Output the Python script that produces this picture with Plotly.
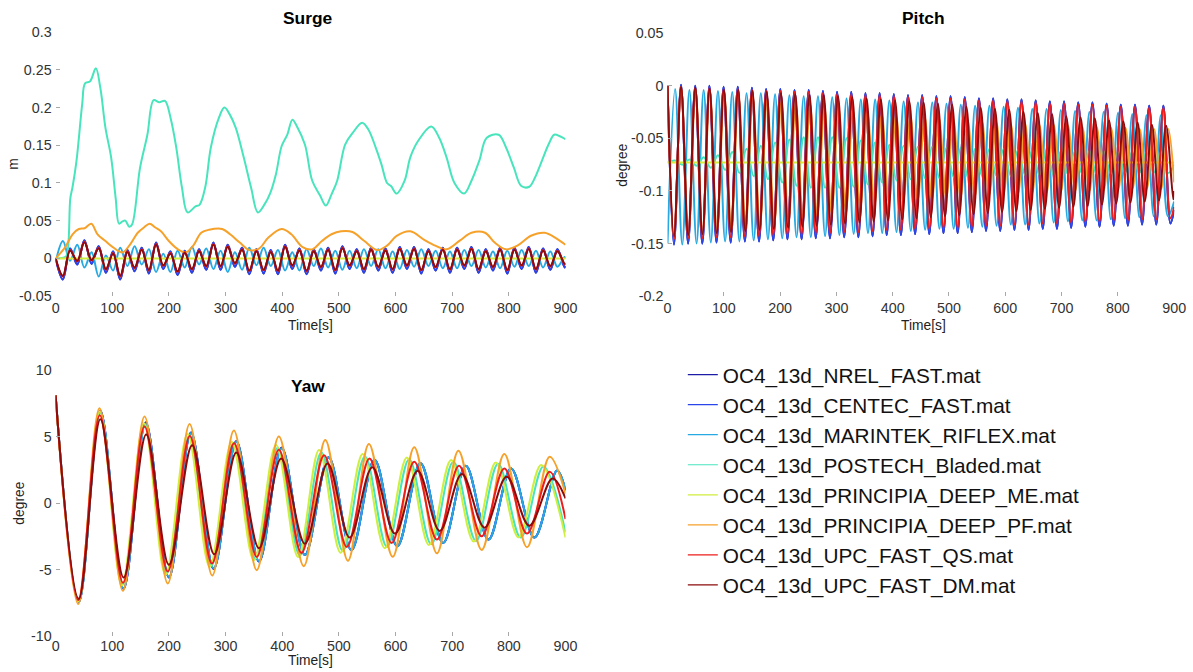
import plotly.graph_objects as go

W, H = 1199, 678

series_names = [
    "OC4_13d_NREL_FAST.mat",
    "OC4_13d_CENTEC_FAST.mat",
    "OC4_13d_MARINTEK_RIFLEX.mat",
    "OC4_13d_POSTECH_Bladed.mat",
    "OC4_13d_PRINCIPIA_DEEP_ME.mat",
    "OC4_13d_PRINCIPIA_DEEP_PF.mat",
    "OC4_13d_UPC_FAST_QS.mat",
    "OC4_13d_UPC_FAST_DM.mat",
]
series_colors = ["#1c1ca6", "#2a46ea", "#27aae2", "#48e4bc",
                 "#cfee3e", "#f5a12a", "#ee1c1c", "#8c0b0b"]

# ---------------- Surge [m] ----------------
surge_wave_t = [0, 12.9, 25.5, 38.2, 50.8, 63.5, 76.1, 88.8, 101.4, 114.1, 126.7, 139.4, 152.0, 164.7,
                177.3, 190.0, 202.6, 215.3, 227.9, 240.6, 253.2, 265.9, 278.5, 291.2, 303.8, 316.5,
                329.1, 341.8, 354.4, 367.1, 379.7, 392.4, 405.0, 417.7, 430.3, 443.0, 455.6, 468.3,
                480.9, 493.6, 506.2, 518.9, 531.5, 544.2, 556.8, 569.5, 582.1, 594.8, 607.4, 620.1,
                632.7, 645.4, 658.0, 670.7, 683.3, 696.0, 708.6, 721.3, 733.9, 746.6, 759.2, 771.9,
                784.5, 797.2, 809.8, 822.5, 835.1, 847.8, 860.4, 873.1, 885.7, 898.4, 900]
surge_fast = [0.000, -0.028, 0.013, -0.008, 0.024, -0.007, 0.016, -0.019, 0.009, -0.028, 0.011, -0.017,
              0.014, -0.020, 0.021, -0.014, 0.009, -0.022, 0.010, -0.019, 0.012, -0.015, 0.021, -0.015,
              0.018, -0.011, 0.014, -0.021, 0.012, -0.020, 0.011, -0.021, 0.018, -0.014, 0.013, -0.021,
              0.012, -0.016, 0.014, -0.020, 0.016, -0.014, 0.012, -0.019, 0.014, -0.016, 0.013, -0.019,
              0.015, -0.014, 0.015, -0.020, 0.012, -0.016, 0.014, -0.019, 0.014, -0.014, 0.015, -0.019,
              0.012, -0.016, 0.014, -0.020, 0.014, -0.014, 0.015, -0.019, 0.013, -0.015, 0.012, -0.012,
              -0.010]
surge_marintek = [-0.005, 0.023, -0.003, 0.018, -0.012, 0.008, -0.024, 0.004, -0.016, 0.014, -0.010,
                  0.016, -0.008, 0.012, -0.018, 0.006, -0.018, 0.010, -0.012, 0.015, -0.008, 0.013,
                  -0.014, 0.010, -0.018, 0.008, -0.015, 0.014, -0.009, 0.014, -0.010, 0.011, -0.016,
                  0.008, -0.016, 0.012, -0.010, 0.013, -0.012, 0.010, -0.015, 0.010, -0.013, 0.012,
                  -0.010, 0.012, -0.013, 0.009, -0.014, 0.011, -0.011, 0.012, -0.010, 0.010, -0.013,
                  0.009, -0.013, 0.011, -0.010, 0.011, -0.012, 0.009, -0.013, 0.010, -0.011, 0.011,
                  -0.010, 0.010, -0.012, 0.009, -0.011, 0.002, 0.000]
surge_qs = [0.000, -0.024, 0.011, -0.004, 0.022, -0.003, 0.014, -0.015, 0.007, -0.024, 0.009, -0.013,
            0.012, -0.016, 0.019, -0.010, 0.007, -0.018, 0.008, -0.015, 0.010, -0.011, 0.019, -0.011,
            0.016, -0.007, 0.012, -0.017, 0.010, -0.016, 0.009, -0.017, 0.016, -0.010, 0.011, -0.017,
            0.010, -0.012, 0.012, -0.016, 0.014, -0.010, 0.010, -0.015, 0.012, -0.012, 0.011, -0.015,
            0.013, -0.010, 0.013, -0.016, 0.010, -0.012, 0.012, -0.015, 0.012, -0.010, 0.013, -0.015,
            0.010, -0.012, 0.012, -0.016, 0.012, -0.010, 0.013, -0.015, 0.011, -0.011, 0.010, -0.008,
            -0.007]
surge_dm = [0.000, -0.023, 0.010, -0.003, 0.021, -0.002, 0.013, -0.014, 0.006, -0.023, 0.008, -0.012,
            0.011, -0.015, 0.018, -0.009, 0.006, -0.017, 0.007, -0.014, 0.009, -0.010, 0.018, -0.010,
            0.015, -0.006, 0.011, -0.016, 0.009, -0.015, 0.008, -0.016, 0.015, -0.009, 0.010, -0.016,
            0.009, -0.011, 0.011, -0.015, 0.013, -0.009, 0.009, -0.014, 0.011, -0.011, 0.010, -0.014,
            0.012, -0.009, 0.012, -0.015, 0.009, -0.011, 0.011, -0.014, 0.011, -0.009, 0.012, -0.014,
            0.009, -0.011, 0.011, -0.015, 0.011, -0.009, 0.012, -0.014, 0.010, -0.010, 0.009, -0.007,
            -0.006]
surge_postech_t = [0, 13.5, 19, 26, 30, 37, 47, 52, 61, 71, 79, 88, 98, 106, 112, 118, 123, 130, 135,
                   149, 162, 173, 183, 193, 203, 213, 223, 233, 247, 254, 264, 274, 288, 298, 308, 318,
                   332, 345, 357, 369, 379, 389, 399, 409, 418, 426, 440, 453, 467, 477, 487, 497, 511,
                   524, 541, 552, 565, 575, 585, 592, 602, 616, 626, 640, 663, 677, 690, 704, 721, 734,
                   748, 761, 782, 795, 809, 822, 836, 846, 856, 870, 880, 890, 900]
surge_postech = [0.000, 0.001, 0.003, 0.080, 0.095, 0.130, 0.205, 0.232, 0.235, 0.252, 0.226, 0.173,
                 0.134, 0.080, 0.046, 0.049, 0.050, 0.042, 0.045, 0.120, 0.164, 0.210, 0.207, 0.209,
                 0.186, 0.147, 0.094, 0.061, 0.069, 0.071, 0.094, 0.147, 0.186, 0.200, 0.190, 0.173,
                 0.134, 0.094, 0.061, 0.072, 0.087, 0.112, 0.149, 0.164, 0.184, 0.175, 0.151, 0.103,
                 0.083, 0.070, 0.085, 0.103, 0.151, 0.166, 0.180, 0.171, 0.147, 0.125, 0.100, 0.096,
                 0.086, 0.103, 0.134, 0.156, 0.175, 0.160, 0.134, 0.100, 0.086, 0.103, 0.130, 0.160,
                 0.164, 0.147, 0.120, 0.096, 0.095, 0.107, 0.125, 0.151, 0.164, 0.162, 0.158]
surge_me_t = [0, 900]
surge_me = [0.0, 0.0]
surge_pf_t = [0, 17, 30, 41, 51, 63, 74, 88, 101, 118, 132, 145, 156, 166, 176, 186, 200, 216, 230,
              243, 257, 271, 294, 308, 325, 342, 359, 376, 399, 416, 436, 453, 470, 487, 504, 524, 545,
              568, 585, 602, 626, 650, 670, 690, 714, 734, 758, 775, 795, 815, 839, 863, 883, 900]
surge_pf = [0.000, 0.015, 0.032, 0.039, 0.040, 0.046, 0.032, 0.023, 0.015, 0.008, 0.019, 0.034, 0.041,
            0.046, 0.041, 0.036, 0.023, 0.012, 0.008, 0.017, 0.034, 0.038, 0.039, 0.032, 0.021, 0.011,
            0.013, 0.028, 0.039, 0.032, 0.015, 0.012, 0.023, 0.032, 0.036, 0.035, 0.023, 0.011, 0.017,
            0.030, 0.036, 0.025, 0.017, 0.012, 0.024, 0.034, 0.034, 0.021, 0.012, 0.017, 0.030, 0.034,
            0.027, 0.018]

# ---------------- Pitch [degree] ----------------
pitch_wave_t = [0, 11.4, 24.0, 36.6, 49.2, 61.8, 74.4, 87.0, 99.6, 112.2, 124.8, 137.4, 150.0, 162.6,
                175.2, 187.8, 200.4, 213.0, 225.6, 238.2, 250.8, 263.4, 276.0, 288.6, 301.2, 313.8,
                326.4, 339.0, 351.6, 364.2, 376.8, 389.4, 402.0, 414.6, 427.2, 439.8, 452.4, 465.0,
                477.6, 490.2, 502.8, 515.4, 528.0, 540.6, 553.2, 565.8, 578.4, 591.0, 603.6, 616.2,
                628.8, 641.4, 654.0, 666.6, 679.2, 691.8, 704.4, 717.0, 729.6, 742.2, 754.8, 767.4,
                780.0, 792.6, 805.2, 817.8, 830.4, 843.0, 855.6, 868.2, 880.8, 893.4, 900]
pitch_dm_t = [0, 11.5, 24.1, 36.8, 49.5, 62.1, 74.8, 87.5, 100.2, 112.8, 125.5, 138.2, 150.8, 163.5,
              176.2, 188.8, 201.5, 214.2, 226.9, 239.5, 252.2, 264.9, 277.5, 290.2, 302.9, 315.5,
              328.2, 340.9, 353.6, 366.2, 378.9, 391.6, 404.2, 416.9, 429.6, 442.2, 454.9, 467.6,
              480.3, 492.9, 505.6, 518.3, 530.9, 543.6, 556.3, 568.9, 581.6, 594.3, 607.0, 619.6,
              632.3, 645.0, 657.6, 670.3, 683.0, 695.6, 708.3, 721.0, 733.7, 746.3, 759.0, 771.7,
              784.3, 797.0, 809.7, 822.3, 835.0, 847.7, 860.4, 873.0, 885.7, 898.4, 900]
pitch_pf_t = [0, 11.5, 24.2, 37.0, 49.7, 62.4, 75.1, 87.9, 100.6, 113.3, 126.0, 138.8, 151.5, 164.2,
              177.0, 189.7, 202.4, 215.1, 227.9, 240.6, 253.3, 266.0, 278.8, 291.5, 304.2, 316.9,
              329.7, 342.4, 355.1, 367.8, 380.6, 393.3, 406.0, 418.7, 431.5, 444.2, 456.9, 469.7,
              482.4, 495.1, 507.8, 520.6, 533.3, 546.0, 558.7, 571.5, 584.2, 596.9, 609.6, 622.4,
              635.1, 647.8, 660.5, 673.3, 686.0, 698.7, 711.4, 724.2, 736.9, 749.6, 762.3, 775.1,
              787.8, 800.5, 813.3, 826.0, 838.7, 851.4, 864.2, 876.9, 889.6, 900]
pitch_lead_t = [0, 13.5, 26.2, 38.9, 51.6, 64.2, 76.9, 89.6, 102.3, 115.0, 127.7, 140.4, 153.1, 165.8,
                178.4, 191.1, 203.8, 216.5, 229.2, 241.9, 254.6, 267.3, 279.9, 292.6, 305.3, 318.0,
                330.7, 343.4, 356.1, 368.8, 381.4, 394.1, 406.8, 419.5, 432.2, 444.9, 457.6, 470.3,
                483.0, 495.6, 508.3, 521.0, 533.7, 546.4, 559.1, 571.8, 584.5, 597.1, 609.8, 622.5,
                635.2, 647.9, 660.6, 673.3, 686.0, 698.7, 711.3, 724.0, 736.7, 749.4, 762.1, 774.8,
                787.5, 800.2, 812.8, 825.5, 838.2, 850.9, 863.6, 876.3, 889.0, 900]
pitch_fast = [0.000, -0.151, 0.001, -0.150, 0.000, -0.150, 0.000, -0.149, -0.001, -0.149, -0.001,
              -0.148, -0.002, -0.148, -0.003, -0.147, -0.003, -0.146, -0.004, -0.146, -0.004, -0.145,
              -0.005, -0.145, -0.006, -0.144, -0.006, -0.144, -0.007, -0.143, -0.007, -0.142, -0.008,
              -0.142, -0.009, -0.141, -0.009, -0.141, -0.010, -0.140, -0.010, -0.140, -0.011, -0.139,
              -0.012, -0.138, -0.012, -0.138, -0.013, -0.137, -0.013, -0.137, -0.014, -0.136, -0.015,
              -0.136, -0.015, -0.135, -0.016, -0.134, -0.016, -0.134, -0.017, -0.133, -0.018, -0.133,
              -0.018, -0.132, -0.019, -0.132, -0.019, -0.131, -0.118]
pitch_marintek = [-0.150, -0.003, -0.151, -0.004, -0.150, -0.004, -0.149, -0.005, -0.148, -0.006,
                  -0.148, -0.007, -0.147, -0.007, -0.146, -0.008, -0.145, -0.009, -0.144, -0.010,
                  -0.144, -0.010, -0.143, -0.011, -0.142, -0.012, -0.141, -0.013, -0.140, -0.013,
                  -0.140, -0.014, -0.139, -0.015, -0.138, -0.016, -0.137, -0.016, -0.136, -0.017,
                  -0.136, -0.018, -0.135, -0.019, -0.134, -0.019, -0.133, -0.020, -0.132, -0.021,
                  -0.132, -0.022, -0.131, -0.022, -0.130, -0.023, -0.129, -0.024, -0.128, -0.025,
                  -0.128, -0.025, -0.127, -0.026, -0.126, -0.027, -0.125, -0.028, -0.124, -0.028,
                  -0.124, -0.110]
pitch_postech = [-0.073, -0.071, -0.075, -0.070, -0.076, -0.068, -0.078, -0.066, -0.080, -0.063, -0.083,
                 -0.060, -0.086, -0.057, -0.089, -0.054, -0.092, -0.051, -0.095, -0.049, -0.097, -0.049,
                 -0.097, -0.049, -0.097, -0.050, -0.096, -0.052, -0.094, -0.054, -0.092, -0.056, -0.090,
                 -0.057, -0.089, -0.058, -0.088, -0.058, -0.088, -0.059, -0.087, -0.059, -0.087, -0.060,
                 -0.086, -0.060, -0.086, -0.060, -0.086, -0.061, -0.085, -0.061, -0.085, -0.061, -0.085,
                 -0.062, -0.084, -0.062, -0.084, -0.062, -0.084, -0.062, -0.084, -0.063, -0.083, -0.063,
                 -0.083, -0.063, -0.083, -0.063, -0.083, -0.075]
pitch_me_t = [0, 900]
pitch_me = [-0.073, -0.073]
pitch_pf = [0.000, -0.145, -0.001, -0.143, -0.003, -0.141, -0.005, -0.139, -0.007, -0.137, -0.009,
            -0.135, -0.011, -0.133, -0.013, -0.131, -0.015, -0.128, -0.017, -0.126, -0.019, -0.124,
            -0.021, -0.121, -0.022, -0.119, -0.024, -0.116, -0.025, -0.113, -0.027, -0.111, -0.028,
            -0.110, -0.029, -0.109, -0.030, -0.108, -0.031, -0.107, -0.032, -0.106, -0.033, -0.105,
            -0.034, -0.104, -0.035, -0.103, -0.036, -0.103, -0.036, -0.102, -0.037, -0.102, -0.037,
            -0.101, -0.038, -0.100, -0.039, -0.100, -0.039, -0.099, -0.040, -0.099, -0.040, -0.098,
            -0.041, -0.098, -0.041, -0.098, -0.041, -0.092]
pitch_qs = [0.000, -0.146, -0.001, -0.145, -0.002, -0.145, -0.002, -0.144, -0.003, -0.144, -0.003,
            -0.143, -0.004, -0.143, -0.005, -0.142, -0.005, -0.141, -0.006, -0.141, -0.006, -0.140,
            -0.007, -0.140, -0.008, -0.139, -0.008, -0.139, -0.009, -0.138, -0.009, -0.137, -0.010,
            -0.137, -0.011, -0.136, -0.011, -0.136, -0.012, -0.135, -0.012, -0.135, -0.013, -0.134,
            -0.014, -0.133, -0.014, -0.133, -0.015, -0.132, -0.015, -0.132, -0.016, -0.131, -0.017,
            -0.131, -0.017, -0.130, -0.018, -0.129, -0.018, -0.129, -0.019, -0.128, -0.020, -0.128,
            -0.020, -0.127, -0.021, -0.127, -0.021, -0.126, -0.115]
pitch_dm = [0.000, -0.143, -0.001, -0.142, -0.002, -0.141, -0.003, -0.140, -0.004, -0.139, -0.004,
            -0.138, -0.005, -0.137, -0.006, -0.136, -0.007, -0.135, -0.008, -0.134, -0.009, -0.133,
            -0.009, -0.132, -0.010, -0.131, -0.011, -0.130, -0.012, -0.129, -0.013, -0.128, -0.014,
            -0.127, -0.015, -0.126, -0.016, -0.125, -0.017, -0.124, -0.018, -0.123, -0.020, -0.122,
            -0.021, -0.121, -0.022, -0.120, -0.023, -0.119, -0.025, -0.118, -0.026, -0.117, -0.027,
            -0.116, -0.029, -0.115, -0.030, -0.114, -0.031, -0.113, -0.033, -0.112, -0.034, -0.111,
            -0.035, -0.110, -0.037, -0.109, -0.038, -0.108, -0.100]

# ---------------- Yaw [degree] ----------------
yaw_fast_t = [0, 41, 79, 120, 159, 200, 239, 279, 319, 359, 399, 440, 482, 522, 563, 603, 644, 684,
              724, 764, 804, 845, 885, 900]
yaw_fast = [8.1, -7.45, 6.95, -6.45, 6.05, -5.6, 5.3, -4.95, 4.65, -4.4, 4.15, -3.9, 3.45, -3.55,
            3.25, -3.25, 3.0, -3.0, 2.8, -2.75, 2.6, -2.6, 2.45, 0.95]
yaw_marintek_t = [0, 41, 79, 120, 159, 200, 239, 279, 319, 359, 399, 440, 482, 522, 563, 603, 644, 684,
                  724, 764, 804, 845, 885, 900]
yaw_marintek = [8.1, -7.4, 6.85, -6.4, 5.95, -5.55, 5.25, -4.9, 4.6, -4.35, 4.1, -3.9, 3.45, -3.55,
                3.25, -3.25, 3.0, -3.0, 2.8, -2.75, 2.6, -2.6, 2.45, 1.0]
yaw_postech_t = [0, 41, 79, 119, 158, 196, 236, 275, 314, 353, 392, 431, 469, 507, 546, 585, 624, 663,
                 702, 742, 781, 821, 861, 900]
yaw_postech = [8.1, -7.35, 6.8, -6.1, 5.85, -5.3, 5.05, -4.7, 4.5, -4.2, 4.15, -3.95, 3.8, -3.6, 3.5,
               -3.3, 3.3, -3.1, 3.1, -2.85, 2.95, -2.6, 2.75, -2.2]
yaw_me_t = [0, 40, 78, 117, 156, 194, 233, 272, 311, 350, 389, 428, 465, 503, 542, 581, 620, 659, 698,
            738, 777, 817, 857, 900]
yaw_me = [8.1, -7.4, 6.9, -6.2, 6.0, -5.4, 5.2, -4.8, 4.6, -4.3, 4.36, -4.05, 3.98, -3.73, 3.68, -3.4,
          3.43, -3.16, 3.23, -2.9, 3.05, -2.58, 2.86, -2.6]
yaw_pf_t = [0, 40, 77.5, 118.8, 157, 198, 236.5, 276.5, 314.7, 355, 394, 438, 476, 516, 553, 595, 633,
            673, 711, 752, 792, 832, 872, 900]
yaw_pf = [8.1, -7.6, 7.12, -6.6, 6.5, -6.05, 5.95, -5.45, 5.45, -5.05, 5.0, -4.75, 4.74, -4.34, 4.44,
          -4.04, 4.19, -3.78, 3.94, -3.53, 3.68, -3.33, 3.48, 0.7]
yaw_qs_t = [0, 40, 78, 119, 157, 198, 237, 276, 315, 355, 394, 434, 474, 514, 554, 593, 633, 673, 712,
            752, 792, 832, 872, 900]
yaw_qs = [8.1, -7.3, 6.6, -6.0, 5.75, -5.15, 5.05, -4.55, 4.5, -4.05, 4.0, -3.75, 3.6, -3.3, 3.35,
          -3.0, 3.1, -2.75, 2.8, -2.5, 2.6, -2.3, 2.35, -1.2]
yaw_dm_t = [0, 41, 79, 120, 160, 200, 241, 280, 319, 359, 398, 440, 480, 519, 559, 599, 639, 678, 717,
            757, 796, 836, 877, 900]
yaw_dm = [8.1, -7.2, 6.3, -5.6, 5.15, -4.65, 4.35, -3.85, 3.8, -3.4, 3.35, -3.06, 2.98, -2.6, 2.7,
          -2.3, 2.43, -2.1, 2.18, -1.85, 1.98, -1.7, 1.85, 0.35]

time_ticks = [0, 100, 200, 300, 400, 500, 600, 700, 800, 900]
surge_ticks = [-0.05, 0, 0.05, 0.1, 0.15, 0.2, 0.25, 0.3]
surge_tick_text = ["-0.05", "0", "0.05", "0.1", "0.15", "0.2", "0.25", "0.3"]
pitch_ticks = [-0.2, -0.15, -0.1, -0.05, 0, 0.05]
pitch_tick_text = ["-0.2", "-0.15", "-0.1", "-0.05", "0", "0.05"]
yaw_ticks = [-10, -5, 0, 5, 10]
yaw_tick_text = ["-10", "-5", "0", "5", "10"]

# series per panel, in drawing order (last one on top)
surge_series = [(surge_wave_t, surge_fast), (surge_wave_t, surge_fast), (surge_wave_t, surge_marintek),
                (surge_postech_t, surge_postech), (surge_me_t, surge_me), (surge_pf_t, surge_pf),
                (surge_wave_t, surge_qs), (surge_wave_t, surge_dm)]
pitch_series = [(pitch_wave_t, pitch_fast), (pitch_wave_t, pitch_fast), (pitch_lead_t, pitch_marintek),
                (pitch_lead_t, pitch_postech), (pitch_me_t, pitch_me), (pitch_pf_t, pitch_pf),
                (pitch_wave_t, pitch_qs), (pitch_dm_t, pitch_dm)]
yaw_series = [(yaw_fast_t, yaw_fast), (yaw_fast_t, yaw_fast), (yaw_marintek_t, yaw_marintek),
              (yaw_postech_t, yaw_postech), (yaw_me_t, yaw_me), (yaw_pf_t, yaw_pf),
              (yaw_qs_t, yaw_qs), (yaw_dm_t, yaw_dm)]

FONT = "Liberation Sans, Arial, Helvetica, sans-serif"
fig = go.Figure()


def add_panel(series, xa, ya):
    for i, (t, v) in enumerate(series):
        fig.add_trace(go.Scatter(
            x=t, y=v, mode="lines", xaxis=xa, yaxis=ya, showlegend=False, hoverinfo="skip",
            line=dict(color=series_colors[i], width=2, shape="spline", smoothing=1.0)))


add_panel(surge_series, "x", "y")
add_panel(pitch_series, "x2", "y2")
add_panel(yaw_series, "x3", "y3")

# legend entries (thin line samples)
for name, color in zip(series_names, series_colors):
    fig.add_trace(go.Scatter(x=[None], y=[None], mode="lines", name=name,
                             line=dict(color=color, width=1.2), xaxis="x", yaxis="y"))


# screen-pixel layout -> paper fractions (the page body keeps an 8px margin and the
# captured page is slightly rescaled, so positions are expanded accordingly)
SX, SY, OFF, DX = 1.01338, 1.02386, 8, 3.5


def px(a):
    return ((a + DX) * SX - OFF) / W


def py(b):
    return 1 - (b * SY - OFF) / H


def xdom(a, b):
    return [px(a), px(b)]


def ydom(top, bottom):
    return [py(bottom), py(top)]


def axis_style(**kw):
    d = dict(showgrid=False, zeroline=False, showline=False, ticks="inside", ticklen=4,
             tickwidth=1, tickcolor="#a8a8a8", tickfont=dict(family=FONT, size=14.3, color="#333333"),
             fixedrange=True)
    d.update(kw)
    return d


fig.update_layout(
    width=W, height=H, margin=dict(l=0, r=0, t=0, b=0),
    paper_bgcolor="white", plot_bgcolor="white",
    xaxis=axis_style(domain=xdom(56, 566), range=[0, 900], tickvals=time_ticks, anchor="y",
                     ticklabelstandoff=2),
    yaxis=axis_style(domain=ydom(32, 296), range=[-0.05, 0.3], tickvals=surge_ticks,
                     ticktext=surge_tick_text, anchor="x", ticklabelstandoff=3),
    xaxis2=axis_style(domain=[px(668), 1186 / W], range=[0, 900], tickvals=time_ticks,
                      anchor="y2", ticklabelstandoff=2),
    yaxis2=axis_style(domain=ydom(33, 296), range=[-0.2, 0.05], tickvals=pitch_ticks,
                      ticktext=pitch_tick_text, anchor="x2", ticklabelstandoff=3),
    xaxis3=axis_style(domain=xdom(56, 566), range=[0, 900], tickvals=time_ticks, anchor="y3",
                      ticklabelstandoff=0),
    yaxis3=axis_style(domain=ydom(370, 636), range=[-10, 10], tickvals=yaw_ticks,
                      ticktext=yaw_tick_text, anchor="x3", ticklabelstandoff=3),
    legend=dict(x=688 / W, y=1 - 355 / H, xanchor="left", yanchor="top",
                font=dict(family=FONT, size=20.8, color="#111111"),
                bgcolor="rgba(0,0,0,0)", itemwidth=30, tracegroupgap=0),
    showlegend=True,
)


def label(text, xp, yp, size, angle=0, bold=False, color="#222222"):
    fig.add_annotation(text=f"<b>{text}</b>" if bold else text, x=px(xp), y=py(yp),
                       xref="paper", yref="paper", showarrow=False, textangle=angle,
                       xanchor="center", yanchor="middle",
                       font=dict(family=FONT, size=size, color=color))


label("Surge", 308, 18, 17.4, bold=True, color="#000000")
label("Pitch", 924, 18, 17.4, bold=True, color="#000000")
label("Yaw", 308, 386, 17.4, bold=True, color="#000000")
label("Time[s]", 311, 325, 13.8)
label("Time[s]", 924, 325, 13.8)
label("m", 14, 164, 13.8, angle=-90)
label("degree", 623, 165, 13.8, angle=-90)
label("degree", 19, 503, 13.8, angle=-90)
# bottom time label sits on the lower page edge
fig.add_annotation(text="Time[s]", x=px(311), y=0, xref="paper", yref="paper", showarrow=False,
                   xanchor="center", yanchor="bottom",
                   font=dict(family=FONT, size=13.8, color="#222222"))

fig.write_html("out.html")
